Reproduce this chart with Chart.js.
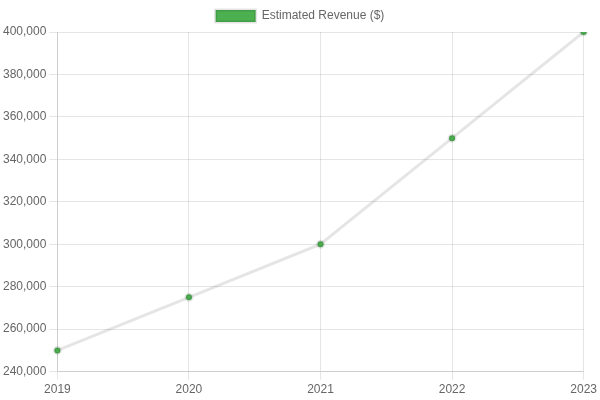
<!DOCTYPE html>
<html>
<head>
<meta charset="utf-8">
<script src="https://cdn.jsdelivr.net/npm/chart.js@4"></script>
<style>
html,body{margin:0;padding:0;background:#fff;}
#wrap{width:600px;height:400px;}
</style>
</head>
<body>
<div id="wrap"><canvas id="c"></canvas></div>
<script>
const years = ['2019', '2020', '2021', '2022', '2023'];
const revenue = [250000, 275000, 300000, 350000, 400000];
const seriesLabel = 'Estimated Revenue ($)';

Chart.defaults.font.family = '"Liberation Sans", Arial, sans-serif';
new Chart(document.getElementById('c'), {
  type: 'line',
  data: {
    labels: years,
    datasets: [{
      label: seriesLabel,
      data: revenue,
      backgroundColor: '#4CAF50',
      borderWidth: 3,
      fill: false
    }]
  },
  options: {
    responsive: true,
    maintainAspectRatio: false,
    animation: false,
    scales: {
      y: {
        min: 240000,
        max: 400000,
        ticks: { stepSize: 20000 }
      }
    }
  }
});
</script>
</body>
</html>
